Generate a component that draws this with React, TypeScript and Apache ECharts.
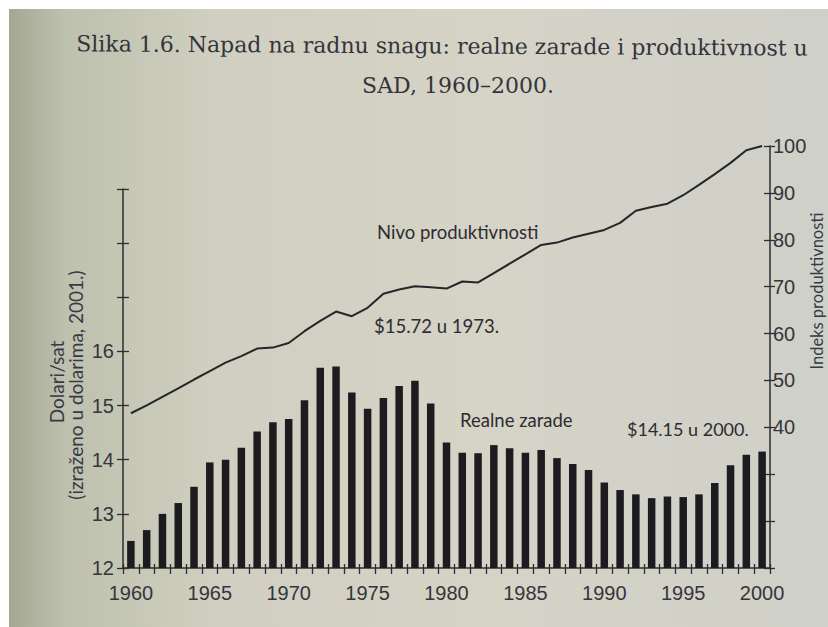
import React, { useEffect, useRef } from "react";
import * as echarts from "echarts";

const years = [
  "1960", "1961", "1962", "1963", "1964", "1965", "1966", "1967", "1968", "1969",
  "1970", "1971", "1972", "1973", "1974", "1975", "1976", "1977", "1978", "1979",
  "1980", "1981", "1982", "1983", "1984", "1985", "1986", "1987", "1988", "1989",
  "1990", "1991", "1992", "1993", "1994", "1995", "1996", "1997", "1998", "1999",
  "2000",
];

// Realne zarade (dolari/sat, u dolarima iz 2001.)
const realWages = [
  12.5, 12.7, 13.0, 13.2, 13.5, 13.95, 14.0, 14.22, 14.52, 14.69,
  14.75, 15.1, 15.7, 15.72, 15.24, 14.94, 15.14, 15.36, 15.46, 15.04,
  14.32, 14.13, 14.12, 14.27, 14.21, 14.13, 14.18, 14.03, 13.92, 13.81,
  13.58, 13.44, 13.36, 13.29, 13.32, 13.31, 13.36, 13.57, 13.9, 14.09,
  14.15,
];

// Indeks produktivnosti
const productivity = [
  43.0, 44.7, 46.5, 48.3, 50.2, 52.0, 53.8, 55.2, 56.8, 57.0,
  58.0, 60.5, 62.7, 64.7, 63.7, 65.5, 68.5, 69.4, 70.1, 69.9,
  69.6, 71.1, 70.9, 72.9, 74.9, 76.9, 78.9, 79.4, 80.5, 81.3,
  82.1, 83.6, 86.2, 87.0, 87.7, 89.5, 91.7, 94.0, 96.4, 99.1,
  100.0,
];

const wageLabels = [12, 13, 14, 15, 16];
const indexLabels = [40, 50, 60, 70, 80, 90, 100];

const titleLine1 = "Slika 1.6. Napad na radnu snagu: realne zarade i produktivnost u";
const titleLine2 = "SAD, 1960–2000.";

export default function App() {
  const ref = useRef<HTMLDivElement>(null);

  useEffect(() => {
    const chart = echarts.init(ref.current!, null, { renderer: "svg" });

    const gridLeft = 123;
    const gridRight = 828 - 770;
    const gridBottom = 627 - 568;
    const ink = "#2c2c31";
    const tickFont = "'Liberation Sans', Arial, sans-serif";
    const annFont = "Lato, 'Open Sans', sans-serif";
    const serif = "'DejaVu Serif', 'Liberation Serif', serif";
    const axisLine = { lineStyle: { color: ink, width: 1.5 } };

    const option: any = {
      animation: false,
      backgroundColor: "#ffffff",
      grid: [
        { left: gridLeft, right: gridRight, top: 189, bottom: gridBottom, outerBoundsMode: "none" },
        { left: gridLeft, right: gridRight, top: 146, bottom: gridBottom, outerBoundsMode: "none" },
      ],
      xAxis: [
        {
          gridIndex: 0,
          type: "category",
          data: years,
          position: "bottom",
          boundaryGap: true,
          axisLine,
          axisTick: { show: true, interval: 0, length: 6, lineStyle: { color: ink, width: 1.3 } },
          axisLabel: {
            interval: 4,
            margin: 15,
            fontSize: 20,
            fontFamily: tickFont,
            color: "#35353b",
          },
          splitLine: { show: false },
        },
        {
          gridIndex: 0,
          type: "category",
          data: years,
          position: "bottom",
          boundaryGap: true,
          axisLine: { show: false },
          axisTick: { show: true, inside: true, interval: 0, length: 4, lineStyle: { color: ink, width: 1.3 } },
          axisLabel: { show: false },
          splitLine: { show: false },
        },
        {
          gridIndex: 1,
          type: "category",
          data: years,
          boundaryGap: true,
          show: false,
        },
      ],
      yAxis: [
        {
          gridIndex: 0,
          type: "value",
          position: "left",
          min: 12,
          max: 19,
          interval: 1,
          axisLine: { show: true, ...axisLine },
          axisTick: { show: true, length: 6, lineStyle: { color: ink, width: 1.3 } },
          axisLabel: {
            margin: 9,
            fontSize: 20,
            fontFamily: tickFont,
            color: "#35353b",
            formatter: (v: number) => (wageLabels.indexOf(v) >= 0 ? String(v) : ""),
          },
          splitLine: { show: false },
        },
        {
          gridIndex: 0,
          type: "value",
          position: "left",
          min: 12,
          max: 19,
          interval: 1,
          axisLine: { show: false },
          axisTick: { show: true, inside: true, length: 6, lineStyle: { color: ink, width: 1.3 } },
          axisLabel: { show: false },
          splitLine: { show: false },
        },
        {
          gridIndex: 1,
          type: "value",
          position: "right",
          min: 10,
          max: 100,
          interval: 10,
          axisLine: { show: true, ...axisLine },
          axisTick: { show: true, length: 5, lineStyle: { color: ink, width: 1.3 } },
          axisLabel: {
            margin: 3,
            fontSize: 20,
            fontFamily: tickFont,
            color: "#35353b",
            formatter: (v: number) => (indexLabels.indexOf(v) >= 0 ? String(v) : ""),
          },
          splitLine: { show: false },
        },
        {
          gridIndex: 1,
          type: "value",
          position: "right",
          min: 10,
          max: 100,
          interval: 10,
          axisLine: { show: false },
          axisTick: { show: true, inside: true, length: 6, lineStyle: { color: ink, width: 1.3 } },
          axisLabel: { show: false },
          splitLine: { show: false },
        },
      ],
      series: [
        {
          name: "Realne zarade",
          type: "bar",
          xAxisIndex: 0,
          yAxisIndex: 0,
          data: realWages,
          barWidth: 7.5,
          itemStyle: { color: "#1c1c20" },
          z: 3,
        },
        {
          name: "Nivo produktivnosti",
          type: "line",
          xAxisIndex: 2,
          yAxisIndex: 2,
          data: productivity,
          symbol: "none",
          lineStyle: { color: "#26262a", width: 2 },
          z: 4,
        },
      ],
      graphic: [
        {
          type: "rect",
          z: -100,
          silent: true,
          shape: { x: 9, y: 9, width: 819, height: 618 },
          style: {
            fill: new echarts.graphic.LinearGradient(0, 0, 1, 0, [
              { offset: 0, color: "#a4a893" },
              { offset: 0.07, color: "#bec1ad" },
              { offset: 0.25, color: "#d0cfc1" },
              { offset: 0.6, color: "#d6d3c7" },
              { offset: 1, color: "#cfd0c8" },
            ]),
          },
        },
        {
          type: "text",
          x: 442,
          y: 46,
          rotation: -0.006,
          style: {
            text: titleLine1,
            align: "center",
            verticalAlign: "middle",
            fontFamily: serif,
            fontSize: 22,
            fill: "#34343a",
          },
        },
        {
          type: "text",
          x: 458,
          y: 85,
          style: {
            text: titleLine2,
            align: "center",
            verticalAlign: "middle",
            fontFamily: serif,
            fontSize: 22,
            fill: "#34343a",
          },
        },
        {
          type: "text",
          x: 377,
          y: 232,
          style: { text: "Nivo produktivnosti", align: "left", verticalAlign: "middle", fontFamily: annFont, fontSize: 18.5, fill: ink },
        },
        {
          type: "text",
          x: 374,
          y: 326,
          style: { text: "$15.72 u 1973.", align: "left", verticalAlign: "middle", fontFamily: annFont, fontSize: 18.5, fill: ink },
        },
        {
          type: "text",
          x: 460,
          y: 420,
          style: { text: "Realne zarade", align: "left", verticalAlign: "middle", fontFamily: annFont, fontSize: 18.5, fill: ink },
        },
        {
          type: "text",
          x: 627,
          y: 429,
          style: { text: "$14.15 u 2000.", align: "left", verticalAlign: "middle", fontFamily: annFont, fontSize: 18, fill: ink },
        },
        {
          type: "text",
          x: 56,
          y: 382,
          rotation: Math.PI / 2,
          style: { text: "Dolari/sat", align: "center", verticalAlign: "middle", fontFamily: annFont, fontSize: 19, fill: "#363a48" },
        },
        {
          type: "text",
          x: 75,
          y: 385,
          rotation: Math.PI / 2,
          style: { text: "(izraženo u dolarima, 2001.)", align: "center", verticalAlign: "middle", fontFamily: annFont, fontSize: 19, fill: "#363a48" },
        },
        {
          type: "text",
          x: 817,
          y: 291,
          rotation: Math.PI / 2,
          style: { text: "Indeks produktivnosti", align: "center", verticalAlign: "middle", fontFamily: annFont, fontSize: 16.5, fill: "#363a48" },
        },
      ],
    };

    chart.setOption(option);
    return () => chart.dispose();
  }, []);

  return (
    <div
      ref={ref}
      style={{ position: "fixed", left: 0, top: 0, width: 828, height: 627 }}
    />
  );
}
